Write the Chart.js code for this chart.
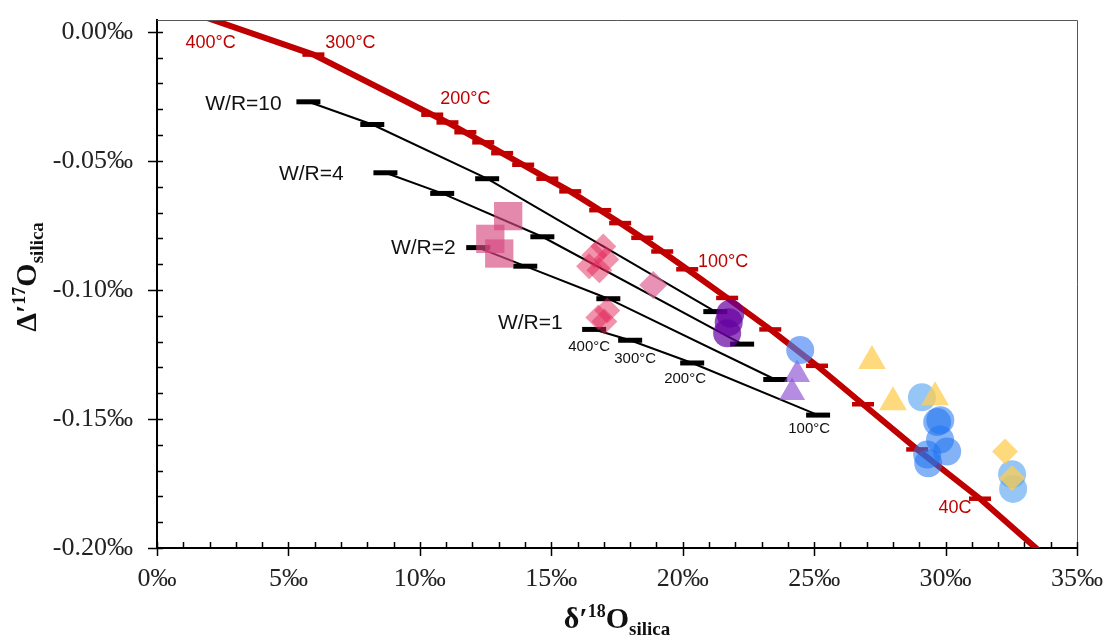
<!DOCTYPE html>
<html>
<head>
<meta charset="utf-8">
<script src="https://cdn.jsdelivr.net/npm/chart.js@4.4.0/dist/chart.umd.min.js"></script>
<style>
  html, body { margin: 0; padding: 0; background: #fff; }
</style>
</head>
<body>
<canvas id="chart" width="1109" height="640"></canvas>
<script>
/* Δ'17O vs δ'18O of silica — equilibrium curve, W/R mixing lines and samples */

// axes
const xTicks = [0, 5, 10, 15, 20, 25, 30, 35];
const xTickLabels = ['0‰', '5‰', '10‰', '15‰', '20‰', '25‰', '30‰', '35‰'];
const yTicks = [-0.20, -0.15, -0.10, -0.05, 0.00];
const yTickLabels = ['-0.20‰', '-0.15‰', '-0.10‰', '-0.05‰', '0.00‰'];

// equilibrium curve (red), 1 = temperature step marker
const eqX = [1.71, 5.95, 10.47, 11.05, 11.73, 12.41, 13.13, 13.93, 14.85, 15.72, 16.86, 17.62, 18.46, 19.22, 20.17, 21.69, 23.33, 25.11, 26.86, 28.92, 31.31, 33.57];
const eqY = [0.0061, -0.0088, -0.0321, -0.0351, -0.0389, -0.0428, -0.0470, -0.0515, -0.0569, -0.0618, -0.0691, -0.0741, -0.0798, -0.0851, -0.0920, -0.1031, -0.1153, -0.1294, -0.1443, -0.1618, -0.1809, -0.2012];
const eqTick = [0, 1, 1, 1, 1, 1, 1, 1, 1, 1, 1, 1, 1, 1, 1, 1, 1, 1, 1, 1, 1, 0];

// water/rock lines, markers at 400, 300, 200, 100 °C
const wr10X = [5.76, 8.19, 12.56, 21.24];
const wr10Y = [-0.0271, -0.0359, -0.0569, -0.1084];
const wr4X = [8.69, 10.85, 14.66, 22.26];
const wr4Y = [-0.0546, -0.0626, -0.0794, -0.1210];
const wr2X = [12.22, 14.01, 17.17, 23.52];
const wr2Y = [-0.0836, -0.0908, -0.1034, -0.1347];
const wr1X = [16.63, 18.00, 20.36, 25.15];
const wr1Y = [-0.1153, -0.1195, -0.1283, -0.1485];

// samples
const squareX = [13.36, 12.68, 13.02];
const squareY = [-0.0714, -0.0802, -0.0859];
const redDiamondX = [16.98, 16.64, 17.09, 16.44, 16.83, 17.13, 16.79, 17.02];
const redDiamondY = [-0.0832, -0.0866, -0.0882, -0.0908, -0.0924, -0.1080, -0.1107, -0.1122];
const pinkDiamondX = [18.88];
const pinkDiamondY = [-0.0981];
const purpleX = [21.81, 21.69, 21.75];
const purpleY = [-0.1092, -0.1168, -0.1125];
const lavenderX = [24.35, 24.16];
const lavenderY = [-0.1328, -0.1397];
const blueX = [24.47];
const blueY = [-0.1233];
const lightBlueX = [29.10, 32.53, 32.57];
const lightBlueY = [-0.1416, -0.1714, -0.1771];
const midBlueX = [29.68, 29.79, 29.30, 29.34, 30.06, 29.80];
const midBlueY = [-0.1512, -0.1580, -0.1638, -0.1672, -0.1626, -0.1505];
const yellowTriX = [27.20, 28.00, 29.60];
const yellowTriY = [-0.1275, -0.1435, -0.1416];
const yellowDiamondX = [32.26, 32.53];
const yellowDiamondY = [-0.1626, -0.1729];

// text on the plot
const redNotes = [
  { t: '400°C', x: 2.04, y: -0.0042 },
  { t: '300°C', x: 7.36, y: -0.0042 },
  { t: '200°C', x: 11.73, y: -0.0260 },
  { t: '100°C', x: 21.54, y: -0.0893 },
  { t: '40C', x: 30.36, y: -0.1847 },
];
const wrNotes = [
  { t: 'W/R=10', x: 3.29, y: -0.0279 },
  { t: 'W/R=4', x: 5.87, y: -0.0550 },
  { t: 'W/R=2', x: 10.13, y: -0.0840 },
  { t: 'W/R=1', x: 14.20, y: -0.1130 },
];
const tempNotes = [
  { t: '400°C', x: 16.44, y: -0.1221 },
  { t: '300°C', x: 18.19, y: -0.1267 },
  { t: '200°C', x: 20.09, y: -0.1344 },
  { t: '100°C', x: 24.81, y: -0.1538 },
];

const SERIF = '"Liberation Serif", "Times New Roman", serif';
const SANS = '"Liberation Sans", Arial, sans-serif';
const RED = '#c00000';

const pts = (xs, ys) => xs.map((x, i) => ({ x, y: ys[i] }));

function marks(xs, ys, style, radius, color) {
  return {
    data: pts(xs, ys), showLine: false, order: 1,
    pointStyle: style, pointRadius: radius, pointHoverRadius: radius,
    backgroundColor: color, borderWidth: 0, pointBorderWidth: 0,
  };
}

function wrLine(xs, ys) {
  return {
    data: pts(xs, ys), showLine: true, order: 3,
    borderColor: '#000', borderWidth: 2, tension: 0,
    pointStyle: 'line', pointRadius: 12, pointBorderWidth: 5,
    pointBorderColor: '#000', pointBackgroundColor: '#000',
  };
}

const datasets = [
  marks(yellowTriX, yellowTriY, 'triangle', 16, 'rgba(255, 205, 80, 0.75)'),
  marks(yellowDiamondX, yellowDiamondY, 'rectRot', 13, 'rgba(255, 205, 80, 0.75)'),
  marks(lightBlueX, lightBlueY, 'circle', 14, 'rgba(80, 160, 240, 0.6)'),
  marks(midBlueX, midBlueY, 'circle', 14, 'rgba(30, 115, 240, 0.55)'),
  marks(blueX, blueY, 'circle', 14, 'rgba(70, 130, 245, 0.65)'),
  marks(purpleX, purpleY, 'circle', 14, 'rgba(102, 0, 160, 0.7)'),
  marks(lavenderX, lavenderY, 'triangle', 15, 'rgba(140, 80, 210, 0.65)'),
  marks(pinkDiamondX, pinkDiamondY, 'rectRot', 14, 'rgba(222, 100, 150, 0.7)'),
  marks(redDiamondX, redDiamondY, 'rectRot', 13, 'rgba(228, 40, 90, 0.5)'),
  marks(squareX, squareY, 'rect', 20, 'rgba(214, 72, 128, 0.65)'),
  {
    data: pts(eqX, eqY), showLine: true, order: 2,
    borderColor: RED, borderWidth: 6, tension: 0,
    pointStyle: 'line', pointRadius: ctx => (eqTick[ctx.dataIndex] ? 11 : 0),
    pointBorderWidth: 4.5, pointBorderColor: RED, pointBackgroundColor: RED,
  },
  wrLine(wr10X, wr10Y),
  wrLine(wr4X, wr4Y),
  wrLine(wr2X, wr2Y),
  wrLine(wr1X, wr1Y),
];

/* ─── Plugins ─── */

// frame on top/right and the little inward tick marks
const frameTicks = {
  id: 'frameTicks',
  afterDraw(chart) {
    const { ctx, chartArea: a, scales: { x, y } } = chart;
    ctx.save();
    ctx.strokeStyle = '#555';
    ctx.lineWidth = 1;
    ctx.beginPath();
    ctx.moveTo(a.left, a.top + 0.5);
    ctx.lineTo(a.right + 0.5, a.top + 0.5);
    ctx.lineTo(a.right + 0.5, a.bottom);
    ctx.stroke();

    ctx.strokeStyle = '#000';
    ctx.lineWidth = 1.5;
    ctx.beginPath();
    for (let v = 0; v <= 35; v++) {
      const px = Math.round(x.getPixelForValue(v)) + 0.5;
      ctx.moveTo(px, a.bottom - 6);
      ctx.lineTo(px, a.bottom + (v % 5 === 0 ? 8 : 0));
    }
    for (let i = 0; i <= 20; i++) {
      const py = Math.round(y.getPixelForValue(-0.2 + i * 0.01)) + 0.5;
      ctx.moveTo(a.left + 6, py);
      ctx.lineTo(a.left - (i % 5 === 0 ? 9 : 0), py);
    }
    ctx.stroke();
    ctx.restore();
  },
};

// annotations written at data coordinates
const notes = {
  id: 'notes',
  afterDatasetsDraw(chart) {
    const { ctx, scales: { x, y } } = chart;
    const put = (list, font, color) => {
      ctx.font = font;
      ctx.fillStyle = color;
      list.forEach(n => ctx.fillText(n.t, x.getPixelForValue(n.x), y.getPixelForValue(n.y)));
    };
    ctx.save();
    ctx.textAlign = 'center';
    ctx.textBaseline = 'middle';
    put(redNotes, `18px ${SANS}`, RED);
    put(wrNotes, `21px ${SANS}`, '#111');
    put(tempNotes, `15px ${SANS}`, '#111');
    ctx.restore();
  },
};

// axis titles with super/subscripts
function richText(ctx, parts, cx, baseline) {
  const widths = parts.map(p => { ctx.font = p.font; return ctx.measureText(p.t).width; });
  let x = cx - widths.reduce((s, w) => s + w, 0) / 2;
  parts.forEach((p, i) => {
    ctx.font = p.font;
    ctx.fillText(p.t, x, baseline + p.dy);
    x += widths[i];
  });
}

const titles = {
  id: 'titles',
  afterDraw(chart) {
    const { ctx } = chart;
    const big = `bold 30px ${SERIF}`, sup = `bold 18px ${SERIF}`, sub = `bold 19px ${SERIF}`;
    ctx.save();
    ctx.fillStyle = '#111';
    ctx.textAlign = 'left';
    ctx.textBaseline = 'alphabetic';
    richText(ctx, [
      { t: 'δ′', font: big, dy: 0 },
      { t: '18', font: sup, dy: -11 },
      { t: 'O', font: big, dy: 0 },
      { t: 'silica', font: sub, dy: 7 },
    ], 617, 628);
    ctx.translate(36, 277);
    ctx.rotate(-Math.PI / 2);
    richText(ctx, [
      { t: 'Δ′', font: big, dy: 0 },
      { t: '17', font: sup, dy: -11 },
      { t: 'O', font: big, dy: 0 },
      { t: 'silica', font: sub, dy: 7 },
    ], 0, 0);
    ctx.restore();
  },
};

// keep the plot box where the figure has it: no automatic label padding
const noPad = s => { s.paddingTop = s.paddingBottom = s.paddingLeft = s.paddingRight = 0; };

new Chart(document.getElementById('chart'), {
  type: 'scatter',
  data: { datasets },
  options: {
    responsive: false,
    animation: false,
    events: [],
    layout: { padding: { top: 12, right: 32, left: 0, bottom: 0 } },
    plugins: { legend: { display: false }, tooltip: { enabled: false } },
    scales: {
      x: {
        type: 'linear', min: 0, max: 35,
        afterBuildTicks: s => { s.ticks = xTicks.map(v => ({ value: v })); },
        afterFit: s => { s.height = 92; noPad(s); },
        ticks: {
          callback: (v, i) => xTickLabels[i], autoSkip: false, maxRotation: 0,
          padding: 16, color: '#222', font: { family: SERIF, size: 26 },
        },
        grid: { drawOnChartArea: false, drawTicks: false },
        border: { color: '#000', width: 2 },
      },
      y: {
        type: 'linear', min: -0.2, max: 0.0046,
        afterBuildTicks: s => { s.ticks = yTicks.map(v => ({ value: v })); },
        afterFit: s => { s.width = 157; noPad(s); },
        ticks: {
          callback: (v, i) => yTickLabels[i], autoSkip: false,
          padding: 24, color: '#222', font: { family: SERIF, size: 26 },
        },
        grid: { drawOnChartArea: false, drawTicks: false },
        border: { color: '#000', width: 2 },
      },
    },
  },
  plugins: [frameTicks, notes, titles],
});
</script>
</body>
</html>
